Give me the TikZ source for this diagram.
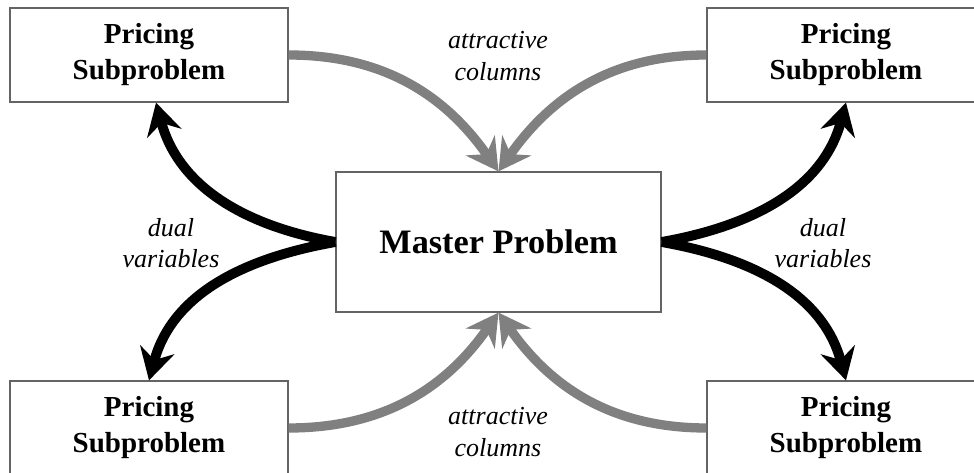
\documentclass[tikz,border=0pt]{standalone}
\usepackage{fontspec}
\setmainfont{Liberation Serif}
\usetikzlibrary{arrows.meta,positioning}

\definecolor{colgray}{RGB}{128,128,128}
\definecolor{boxgray}{RGB}{100,100,100}

\begin{document}
\begin{tikzpicture}[
    x=0.02cm, y=0.02cm,
    pricing/.style={rectangle, minimum width=5.56cm, minimum height=1.88cm, align=center, draw=boxgray, line width=0.7pt, font=\fontsize{16.5}{20.5}\selectfont\bfseries},
    master/.style={rectangle, minimum width=6.5cm, minimum height=2.8cm, align=center, draw=boxgray, line width=0.7pt, font=\fontsize{19.5}{24}\selectfont\bfseries},
    lbl/.style={align=center, font=\fontsize{14.8}{18}\selectfont\itshape},
    colarrow/.style={line width=5.3pt, draw=colgray, -{Stealth[length=18pt, width=20pt, inset=6pt]}, color=colgray},
    dualarrow/.style={line width=5.6pt, draw=black, -{Stealth[length=18pt, width=20pt, inset=6pt]}}
]
    \useasboundingbox (0,0) rectangle (974,473);
    \clip (0,0) rectangle (974,473);

    \node (ms) [master] at (498.5,231) {Master Problem};
    \node (tl) [pricing] at (149,418) {Pricing\\Subproblem};
    \node (tr) [pricing] at (846,418) {Pricing\\Subproblem};
    \node (bl) [pricing] at (149,45) {Pricing\\Subproblem};
    \node (br) [pricing] at (846,45) {Pricing\\Subproblem};

    \node (coltop) [lbl] at (498,417) {attractive\\columns};
    \node (colbot) [lbl] at (498,41) {attractive\\columns};
    \node (dualw) [lbl] at (171,230) {dual\\variables};
    \node (duale) [lbl] at (823,230) {dual\\variables};

    % columns go to the master
    \draw [colarrow] (tl.east) to[out=0, in=125] (ms.north);
    \draw [colarrow] (tr.west) to[out=180, in=55] (ms.north);
    \draw [colarrow] (bl.east) to[out=0, in=-125] (ms.south);
    \draw [colarrow] (br.west) to[out=180, in=-55] (ms.south);

    % duals go back to the subproblems
    \draw [dualarrow] (ms.west) to[out=170, in=-75] ([xshift=4pt]tl.south);
    \draw [dualarrow] (ms.west) to[out=190, in=75] (bl.north);
    \draw [dualarrow] (ms.east) to[out=10, in=-105] (tr.south);
    \draw [dualarrow] (ms.east) to[out=-10, in=105] (br.north);
\end{tikzpicture}
\end{document}
